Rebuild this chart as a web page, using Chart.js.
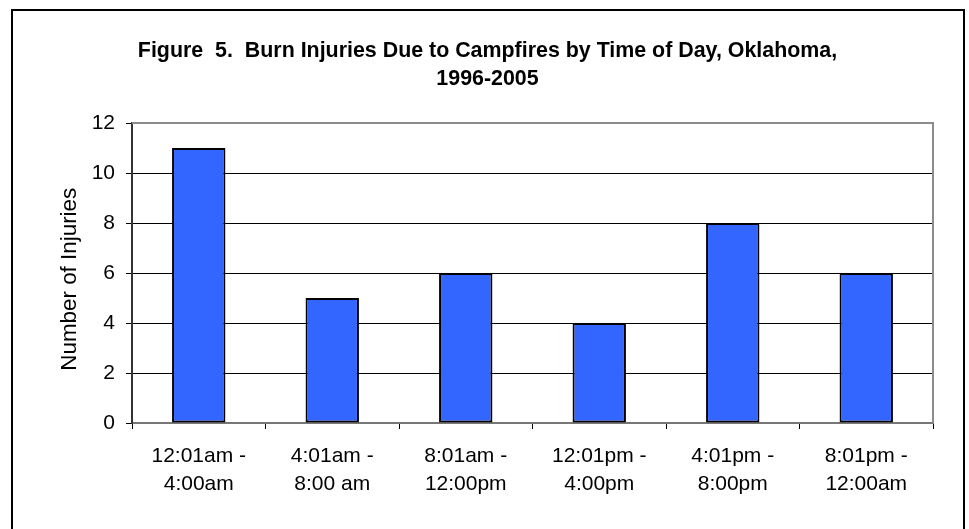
<!DOCTYPE html>
<html>
<head>
<meta charset="utf-8">
<script src="https://cdn.jsdelivr.net/npm/chart.js@4/dist/chart.umd.min.js"></script>
<style>
  html, body { margin: 0; padding: 0; background: #fff; }
  #wrap { position: relative; width: 969px; height: 529px; overflow: hidden; }
  #frame { position: absolute; left: 11px; top: 9px; width: 950px; height: 540px; border: 2px solid #000; box-sizing: content-box; }
  #c { position: absolute; left: 0; top: 0; }
</style>
</head>
<body>
<div id="wrap">
  <div id="frame"></div>
  <canvas id="c" width="969" height="529"></canvas>
</div>
<script>
const titleLines = ['Figure  5.  Burn Injuries Due to Campfires by Time of Day, Oklahoma,', '1996-2005'];
const categories = [
  ['12:01am -', '4:00am'],
  ['4:01am -', '8:00 am'],
  ['8:01am -', '12:00pm'],
  ['12:01pm -', '4:00pm'],
  ['4:01pm -', '8:00pm'],
  ['8:01pm -', '12:00am']
];
const injuries = [11, 5, 6, 4, 8, 6];
const yAxisTitle = 'Number of Injuries';
const yMin = 0, yMax = 12, yStep = 2;

const FONT = "'Liberation Sans', Arial, sans-serif";

const plotFrame = {
  id: 'plotFrame',
  afterDatasetsDraw(chart) {
    const a = chart.chartArea, ctx = chart.ctx;
    ctx.save();
    ctx.strokeStyle = '#8c8c8c';
    ctx.lineWidth = 2;
    ctx.beginPath();
    ctx.moveTo(a.left, a.top);
    ctx.lineTo(a.right, a.top);
    ctx.lineTo(a.right, a.bottom);
    ctx.stroke();
    ctx.restore();
  }
};

new Chart(document.getElementById('c'), {
  type: 'bar',
  data: {
    labels: categories,
    datasets: [{
      data: injuries,
      backgroundColor: '#3366FF',
      borderColor: '#000000',
      borderWidth: 2,
      borderSkipped: false,
      barPercentage: 0.4,
      categoryPercentage: 1.0
    }]
  },
  options: {
    responsive: false,
    animation: false,
    devicePixelRatio: 1,
    layout: { padding: { left: 42, right: 36, top: 0, bottom: 0 } },
    plugins: {
      legend: { display: false },
      tooltip: { enabled: false },
      title: {
        display: true,
        text: titleLines,
        color: '#000',
        font: { family: FONT, size: 21.4, weight: 'bold', lineHeight: 28 / 21.4 },
        padding: { top: 37, bottom: 30 }
      }
    },
    scales: {
      x: {
        grid: {
          display: true,
          drawOnChartArea: false,
          drawTicks: true,
          tickLength: 6,
          color: '#000',
          offset: true
        },
        border: { display: true, color: '#777', width: 2 },
        ticks: {
          color: '#000',
          font: { family: FONT, size: 21, lineHeight: 1.35 },
          padding: 13,
          maxRotation: 0,
          autoSkip: false
        },
        afterFit(scale) { scale.height = 106; }
      },
      y: {
        min: yMin,
        max: yMax,
        ticks: {
          stepSize: yStep,
          color: '#000',
          font: { family: FONT, size: 21 },
          padding: 11
        },
        grid: {
          color: '#000',
          lineWidth: 1,
          tickLength: 6,
          drawTicks: true
        },
        border: { display: true, color: '#333', width: 2 },
        title: {
          display: true,
          text: yAxisTitle + '  ',
          color: '#000',
          font: { family: FONT, size: 22.4, lineHeight: 1.2 },
          padding: { top: 14, bottom: 0 }
        },
        afterFit(scale) { scale.width = 90; }
      }
    }
  },
  plugins: [plotFrame]
});
</script>
</body>
</html>
